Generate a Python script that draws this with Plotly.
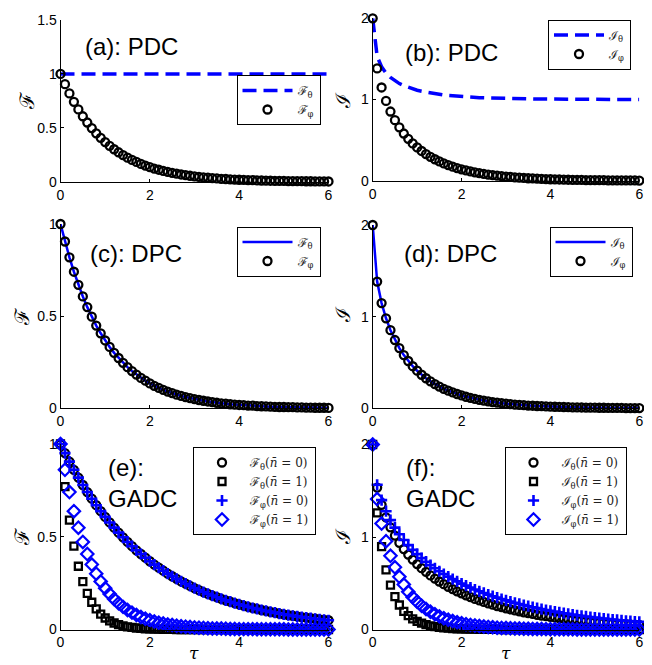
import plotly.graph_objects as go

# page body has an 8px default margin: figure is shifted by OFF, so size shrinks accordingly
OFF = 8
FW, FH = 652 - OFF, 665 - OFF

tau = [0.0, 0.1, 0.2, 0.3, 0.4, 0.5, 0.6, 0.7, 0.8, 0.9,
       1.0, 1.1, 1.2, 1.3, 1.4, 1.5, 1.6, 1.7, 1.8, 1.9,
       2.0, 2.1, 2.2, 2.3, 2.4, 2.5, 2.6, 2.7, 2.8, 2.9,
       3.0, 3.1, 3.2, 3.3, 3.4, 3.5, 3.6, 3.7, 3.8, 3.9,
       4.0, 4.1, 4.2, 4.3, 4.4, 4.5, 4.6, 4.7, 4.8, 4.9,
       5.0, 5.1, 5.2, 5.3, 5.4, 5.5, 5.6, 5.7, 5.8, 5.9, 6.0]

# (a) PDC
F_theta_pdc = [1.0, 1.0, 1.0, 1.0, 1.0, 1.0, 1.0, 1.0, 1.0, 1.0,
               1.0, 1.0, 1.0, 1.0, 1.0, 1.0, 1.0, 1.0, 1.0, 1.0,
               1.0, 1.0, 1.0, 1.0, 1.0, 1.0, 1.0, 1.0, 1.0, 1.0,
               1.0, 1.0, 1.0, 1.0, 1.0, 1.0, 1.0, 1.0, 1.0, 1.0,
               1.0, 1.0, 1.0, 1.0, 1.0, 1.0, 1.0, 1.0, 1.0, 1.0,
               1.0, 1.0, 1.0, 1.0, 1.0, 1.0, 1.0, 1.0, 1.0, 1.0, 1.0]
F_phi_pdc = [1.000, 0.905, 0.819, 0.741, 0.670, 0.607, 0.549, 0.497, 0.449, 0.407,
             0.368, 0.333, 0.301, 0.273, 0.247, 0.223, 0.202, 0.183, 0.165, 0.150,
             0.135, 0.122, 0.111, 0.100, 0.091, 0.082, 0.074, 0.067, 0.061, 0.055,
             0.050, 0.045, 0.041, 0.037, 0.033, 0.030, 0.027, 0.025, 0.022, 0.020,
             0.018, 0.017, 0.015, 0.014, 0.012, 0.011, 0.010, 0.009, 0.008, 0.007,
             0.007, 0.006, 0.006, 0.005, 0.005, 0.004, 0.004, 0.003, 0.003, 0.003, 0.002]

# (b) PDC
I_theta_pdc = [2.000, 1.529, 1.403, 1.325, 1.271, 1.229, 1.196, 1.170, 1.148, 1.130,
               1.114, 1.101, 1.090, 1.080, 1.071, 1.063, 1.056, 1.050, 1.045, 1.040,
               1.036, 1.031, 1.028, 1.025, 1.023, 1.021, 1.019, 1.017, 1.015, 1.014,
               1.012, 1.011, 1.010, 1.009, 1.008, 1.008, 1.007, 1.006, 1.006, 1.005,
               1.005, 1.004, 1.004, 1.003, 1.003, 1.003, 1.003, 1.002, 1.002, 1.002,
               1.002, 1.002, 1.001, 1.001, 1.001, 1.001, 1.001, 1.001, 1.001, 1.001, 1.001]
I_phi_pdc = [2.000, 1.383, 1.148, 0.982, 0.852, 0.745, 0.657, 0.581, 0.516, 0.459,
             0.410, 0.366, 0.328, 0.294, 0.264, 0.237, 0.213, 0.192, 0.173, 0.156,
             0.140, 0.126, 0.114, 0.103, 0.093, 0.084, 0.076, 0.068, 0.062, 0.056,
             0.050, 0.046, 0.041, 0.037, 0.034, 0.030, 0.028, 0.025, 0.023, 0.020,
             0.018, 0.017, 0.015, 0.014, 0.012, 0.011, 0.010, 0.009, 0.008, 0.007,
             0.007, 0.006, 0.006, 0.005, 0.005, 0.004, 0.004, 0.003, 0.003, 0.003, 0.002]

# (c), (d) DPC
F_theta_dpc = F_phi_pdc
F_phi_dpc = F_phi_pdc
I_theta_dpc = I_phi_pdc
I_phi_dpc = I_phi_pdc

# (e) GADC
F_theta_n0 = [1.000, 0.951, 0.905, 0.861, 0.819, 0.779, 0.741, 0.705, 0.670, 0.638,
              0.607, 0.577, 0.549, 0.522, 0.497, 0.472, 0.449, 0.427, 0.407, 0.387,
              0.368, 0.350, 0.333, 0.317, 0.301, 0.287, 0.273, 0.259, 0.247, 0.235,
              0.223, 0.212, 0.202, 0.192, 0.183, 0.174, 0.165, 0.157, 0.150, 0.142,
              0.135, 0.129, 0.122, 0.116, 0.111, 0.105, 0.100, 0.095, 0.091, 0.086,
              0.082, 0.078, 0.074, 0.071, 0.067, 0.064, 0.061, 0.058, 0.055, 0.052, 0.050]
F_phi_n0 = F_theta_n0
F_theta_n1 = [1.000, 0.770, 0.590, 0.450, 0.341, 0.258, 0.195, 0.147, 0.111, 0.083,
              0.062, 0.046, 0.035, 0.026, 0.019, 0.014, 0.011, 0.008, 0.006, 0.004,
              0.003, 0.002, 0.002, 0.001, 0.001, 0.001, 0.000, 0.000, 0.000, 0.000,
              0.000, 0.000, 0.000, 0.000, 0.000, 0.000, 0.000, 0.000, 0.000, 0.000,
              0.000, 0.000, 0.000, 0.000, 0.000, 0.000, 0.000, 0.000, 0.000, 0.000,
              0.000, 0.000, 0.000, 0.000, 0.000, 0.000, 0.000, 0.000, 0.000, 0.000, 0.000]
F_phi_n1 = [1.000, 0.861, 0.741, 0.638, 0.549, 0.472, 0.407, 0.350, 0.301, 0.259,
            0.223, 0.192, 0.165, 0.142, 0.122, 0.105, 0.091, 0.078, 0.067, 0.058,
            0.050, 0.043, 0.037, 0.032, 0.027, 0.024, 0.020, 0.017, 0.015, 0.013,
            0.011, 0.010, 0.008, 0.007, 0.006, 0.005, 0.005, 0.004, 0.003, 0.003,
            0.002, 0.002, 0.002, 0.002, 0.001, 0.001, 0.001, 0.001, 0.001, 0.001,
            0.001, 0.000, 0.000, 0.000, 0.000, 0.000, 0.000, 0.000, 0.000, 0.000, 0.000]

# (f) GADC
I_theta_n0 = [2.000, 1.534, 1.348, 1.213, 1.105, 1.015, 0.937, 0.870, 0.810, 0.756,
              0.707, 0.663, 0.623, 0.585, 0.551, 0.519, 0.490, 0.462, 0.437, 0.413,
              0.391, 0.370, 0.350, 0.331, 0.314, 0.298, 0.282, 0.268, 0.254, 0.241,
              0.229, 0.217, 0.206, 0.196, 0.186, 0.177, 0.168, 0.159, 0.151, 0.144,
              0.137, 0.130, 0.124, 0.117, 0.112, 0.106, 0.101, 0.096, 0.091, 0.087,
              0.083, 0.078, 0.075, 0.071, 0.067, 0.064, 0.061, 0.058, 0.055, 0.052, 0.050]
I_theta_n1 = [2.000, 1.260, 0.897, 0.645, 0.480, 0.355, 0.265, 0.195, 0.150, 0.115,
              0.088, 0.068, 0.052, 0.040, 0.031, 0.024, 0.018, 0.014, 0.011, 0.008,
              0.006, 0.005, 0.004, 0.003, 0.002, 0.002, 0.001, 0.001, 0.001, 0.000,
              0.000, 0.000, 0.000, 0.000, 0.000, 0.000, 0.000, 0.000, 0.000, 0.000,
              0.000, 0.000, 0.000, 0.000, 0.000, 0.000, 0.000, 0.000, 0.000, 0.000,
              0.000, 0.000, 0.000, 0.000, 0.000, 0.000, 0.000, 0.000, 0.000, 0.000, 0.000]
I_phi_n0 = [2.000, 1.565, 1.399, 1.279, 1.182, 1.101, 1.030, 0.968, 0.912, 0.861,
            0.815, 0.772, 0.733, 0.696, 0.662, 0.630, 0.600, 0.572, 0.545, 0.520,
            0.496, 0.474, 0.453, 0.432, 0.413, 0.395, 0.377, 0.360, 0.345, 0.330,
            0.315, 0.301, 0.288, 0.276, 0.264, 0.252, 0.241, 0.231, 0.221, 0.211,
            0.202, 0.193, 0.185, 0.176, 0.169, 0.161, 0.154, 0.148, 0.141, 0.135,
            0.129, 0.123, 0.118, 0.113, 0.108, 0.103, 0.098, 0.094, 0.090, 0.086, 0.082]
I_phi_n1 = [2.000, 1.410, 1.145, 0.955, 0.797, 0.672, 0.570, 0.486, 0.407, 0.350,
            0.300, 0.258, 0.222, 0.191, 0.165, 0.142, 0.122, 0.105, 0.091, 0.078,
            0.067, 0.058, 0.050, 0.043, 0.037, 0.032, 0.027, 0.024, 0.020, 0.017,
            0.015, 0.013, 0.011, 0.010, 0.008, 0.007, 0.006, 0.005, 0.005, 0.004,
            0.003, 0.003, 0.003, 0.002, 0.002, 0.002, 0.001, 0.001, 0.001, 0.001,
            0.001, 0.000, 0.000, 0.000, 0.000, 0.000, 0.000, 0.000, 0.000, 0.000, 0.000]

for s in [F_theta_pdc, F_phi_pdc, I_theta_pdc, I_phi_pdc, F_theta_n0, F_theta_n1,
          F_phi_n1, I_theta_n0, I_theta_n1, I_phi_n0, I_phi_n1]:
    assert len(s) == len(tau), len(s)

x_ticks = [0, 2, 4, 6]
x_ticktext = ["0", "2", "4", "6"]
yticks_a = [0, 0.5, 1, 1.5]
yticks_a_text = ["0", "0.5", "1", "1.5"]
yticks_1 = [0, 0.5, 1]
yticks_1_text = ["0", "0.5", "1"]
yticks_2 = [0, 1, 2]
yticks_2_text = ["0", "1", "2"]

panel_labels = ["(a): PDC", "(b): PDC", "(c): DPC", "(d): DPC", "(e):<br>GADC", "(f):<br>GADC"]

BLUE = "#0000FF"
TICKFONT = dict(family="Liberation Sans, Arial, sans-serif", size=14, color="black")
LEGFONT = dict(family="DejaVu Serif, serif", size=12, color="#222222")


def px_x(px):
    return (px - OFF) / FW


def px_y(py):
    return 1 - (py - OFF) / FH


# pixel-measured plot boxes in the window: (left, right, top, bottom)
boxes = {
    1: (60.5, 328.5, 20.0, 181.7),
    2: (372.7, 639.3, 18.3, 180.7),
    3: (60.5, 328.5, 224.0, 408.3),
    4: (372.7, 639.3, 225.0, 408.3),
    5: (60.5, 328.5, 444.0, 629.5),
    6: (372.7, 639.3, 444.5, 629.5),
}
yinfo = {
    1: ([0, 1.5], yticks_a, yticks_a_text),
    2: ([0, 2], yticks_2, yticks_2_text),
    3: ([0, 1], yticks_1, yticks_1_text),
    4: ([0, 2], yticks_2, yticks_2_text),
    5: ([0, 1], yticks_1, yticks_1_text),
    6: ([0, 2], yticks_2, yticks_2_text),
}

fig = go.Figure()


def ax_name(i, kind):
    return kind if i == 1 else f"{kind}{i}"


def add(i, y, name, legend, **kw):
    fig.add_trace(go.Scatter(
        x=tau, y=y, name=name, legend=legend,
        xaxis="x" if i == 1 else f"x{i}",
        yaxis="y" if i == 1 else f"y{i}",
        cliponaxis=False, **kw))


def circles(color="black"):
    return dict(symbol="circle-open", size=8, color=color, line=dict(width=2.3, color=color))


TH = "<sub>θ</sub>"
PH = "<sub>φ</sub>"
# (a)
add(1, F_theta_pdc, "ℱ" + TH, "legend", mode="lines",
    line=dict(color=BLUE, width=3.5, dash="14px,7px"))
add(1, F_phi_pdc, "ℱ" + PH, "legend", mode="markers", marker=circles())
# (b)
add(2, I_theta_pdc, "ℐ" + TH, "legend2", mode="lines",
    line=dict(color=BLUE, width=3.5, dash="14px,7px"))
add(2, I_phi_pdc, "ℐ" + PH, "legend2", mode="markers", marker=circles())
# (c)
add(3, F_theta_dpc, "ℱ" + TH, "legend3", mode="lines",
    line=dict(color=BLUE, width=2.5))
add(3, F_phi_dpc, "ℱ" + PH, "legend3", mode="markers", marker=circles())
# (d)
add(4, I_theta_dpc, "ℐ" + TH, "legend4", mode="lines",
    line=dict(color=BLUE, width=2.5))
add(4, I_phi_dpc, "ℐ" + PH, "legend4", mode="markers", marker=circles())

sq = dict(symbol="square-open", size=7, color="black", line=dict(width=2.3, color="black"))
pl = dict(symbol="cross-thin-open", size=8, color=BLUE, line=dict(width=2.6, color=BLUE))
dm = dict(symbol="diamond-open", size=9.5, color=BLUE, line=dict(width=2.2, color=BLUE))

nb0 = "(<i>n̄</i> = 0)"
nb1 = "(<i>n̄</i> = 1)"
# (e)
add(5, F_theta_n0, "ℱ" + TH + nb0, "legend5", mode="markers", marker=circles())
add(5, F_theta_n1, "ℱ" + TH + nb1, "legend5", mode="markers", marker=sq)
add(5, F_phi_n0, "ℱ" + PH + nb0, "legend5", mode="markers", marker=pl)
add(5, F_phi_n1, "ℱ" + PH + nb1, "legend5", mode="markers", marker=dm)
# (f)
add(6, I_theta_n0, "ℐ" + TH + nb0, "legend6", mode="markers", marker=circles())
add(6, I_theta_n1, "ℐ" + TH + nb1, "legend6", mode="markers", marker=sq)
add(6, I_phi_n0, "ℐ" + PH + nb0, "legend6", mode="markers", marker=pl)
add(6, I_phi_n1, "ℐ" + PH + nb1, "legend6", mode="markers", marker=dm)

layout = dict(width=FW, height=FH, autosize=False, margin=dict(l=0, r=0, t=0, b=0, pad=0),
              paper_bgcolor="white", plot_bgcolor="white", showlegend=True)

for i, (l, r, t, b) in boxes.items():
    xd = [px_x(l), px_x(r)]
    yd = [px_y(b), px_y(t)]
    yr, yt, ytt = yinfo[i]
    layout["xaxis" if i == 1 else f"xaxis{i}"] = dict(
        domain=xd, anchor=ax_name(i, "y"), range=[0, 6], tickvals=x_ticks, ticktext=x_ticktext,
        showline=True, linecolor="black", linewidth=1, ticks="inside", ticklen=3,
        tickcolor="black", showgrid=False, zeroline=False, tickfont=TICKFONT, fixedrange=True,
        automargin=False)
    layout["yaxis" if i == 1 else f"yaxis{i}"] = dict(
        domain=yd, anchor=ax_name(i, "x"), range=yr, tickvals=yt, ticktext=ytt,
        showline=True, linecolor="black", linewidth=1, ticks="inside", ticklen=3,
        tickcolor="black", showgrid=False, zeroline=False, tickfont=TICKFONT, fixedrange=True,
        automargin=False)


def leg(cx, cy, iw):
    return dict(x=px_x(cx), y=px_y(cy), xanchor="center", yanchor="middle",
                bgcolor="white", bordercolor="black", borderwidth=1, font=LEGFONT,
                tracegroupgap=0, itemwidth=iw)


layout["legend"] = leg(278.5, 100, 50)
layout["legend2"] = leg(589.5, 44.5, 50)
layout["legend3"] = leg(278.5, 251.5, 50)
layout["legend4"] = leg(591, 251.5, 50)
layout["legend5"] = leg(254.5, 491, 46)
layout["legend6"] = leg(565.5, 491, 46)

ann = []
LABFONT = dict(family="Liberation Sans, Arial, sans-serif", size=24, color="black")
label_pos = [(83, 46), (403, 52), (88, 253), (402, 253), (106, 482.5), (404, 482.5)]
for txt, (px, py) in zip(panel_labels, label_pos):
    ann.append(dict(text=txt, x=px_x(px), y=px_y(py), xref="paper", yref="paper",
                    xanchor="left", yanchor="middle", align="left", showarrow=False,
                    font=LABFONT))

TITFONT = dict(family="DejaVu Serif, serif", size=20, color="black")
ytitles = [("ℱ", 27, 101), ("ℐ", 342.5, 100), ("ℱ", 21.5, 317), ("ℐ", 343, 315),
           ("ℱ", 21.5, 537), ("ℐ", 343, 537)]
for txt, px, py in ytitles:
    ann.append(dict(text=txt, x=px_x(px), y=px_y(py), xref="paper", yref="paper",
                    xanchor="center", yanchor="middle", textangle=-90, showarrow=False,
                    font=TITFONT))
for px in [194.5, 506]:
    ann.append(dict(text="<i>τ</i>", x=px_x(px), y=0, xref="paper", yref="paper",
                    xanchor="center", yanchor="bottom", showarrow=False,
                    font=dict(family="DejaVu Serif, serif", size=17, color="black")))
layout["annotations"] = ann

fig.update_layout(**layout)
fig.write_html("out.html")
